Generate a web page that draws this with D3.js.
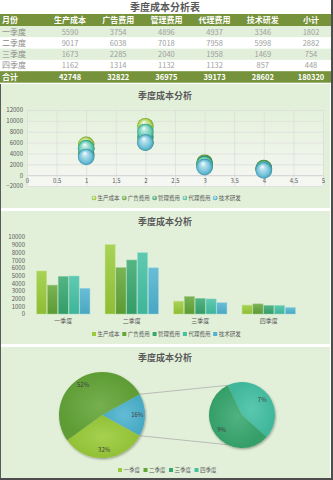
<!DOCTYPE html>
<html>
<head>
  <meta charset="utf-8">
  <style>
    body { margin: 0; background: #fff; }
    svg { display: block; font-family: "Noto Sans CJK SC", "Noto Sans", sans-serif; }
  </style>
</head>
<body>
  <script src="https://d3js.org/d3.v7.min.js"></script>
  <script>
    // table / chart data
    const quarters = ["一季度", "二季度", "三季度", "四季度"];
    const seriesNames = ["生产成本", "广告费用", "管理费用", "代理费用", "技术研发"];
    const production = [5590, 9017, 1673, 1162];
    const advertising = [3754, 6038, 2285, 1314];
    const management = [4896, 7018, 2040, 1132];
    const agency = [4937, 7958, 1958, 1132];
    const research = [3346, 5998, 1469, 857];
    const subtotal = [1802, 2882, 754, 448];
    const totals = [42748, 32822, 36975, 39173, 28602, 180320];
    const headers = ["月份", "生产成本", "广告费用", "管理费用", "代理费用", "技术研发", "小计"];
    const pieShares = [32, 52, 9, 7];   // percent labels shown in the pie-of-pie

    const series = [production, advertising, management, agency, research];
    const colors = ["#99CB38", "#63A537", "#37A76F", "#44C1A3", "#4EB3CF"];
    const pieColors = ["#99CB38", "#63A537", "#37A76F", "#44C1A3"];
    const otherColor = "#4EB3CF";

    const W = 333, H = 480;
    const svg = d3.select("body").append("svg").attr("width", W).attr("height", H);
    const defs = svg.append("defs");
    const plain = d3.format("d");

    // ---------- table ----------
    svg.append("text").attr("x", 165).attr("y", 11).attr("text-anchor", "middle")
      .attr("font-size", 10).attr("font-weight", "bold").attr("fill", "#595959")
      .text("季度成本分析表");

    const colX = d3.scalePoint().domain(d3.range(6)).range([70, 311]);
    const rowH = 11.3, top0 = 14, headH = 12;
    const rowY = (i) => top0 + headH + i * rowH;

    svg.append("rect").attr("x", 0).attr("y", top0).attr("width", W).attr("height", headH).attr("fill", "#76933C");
    svg.append("text").attr("x", 2).attr("y", top0 + 9).attr("font-size", 8).attr("font-weight", "bold")
      .attr("fill", "#fff").text(headers[0]);
    svg.selectAll(".hd").data(headers.slice(1)).enter().append("text")
      .attr("x", (d, i) => colX(i)).attr("y", top0 + 9).attr("text-anchor", "middle")
      .attr("font-size", 8).attr("font-weight", "bold").attr("fill", "#fff").text(d => d);

    quarters.forEach((q, r) => {
      const y = rowY(r);
      svg.append("rect").attr("x", 0).attr("y", y).attr("width", W).attr("height", rowH)
        .attr("fill", r % 2 === 0 ? "#E2EFDA" : "#fff");
      svg.append("text").attr("x", 2).attr("y", y + 8.5).attr("font-size", 8).attr("fill", "#8c8c8c").text(q);
      const vals = series.map(s => s[r]).concat([subtotal[r]]);
      vals.forEach((v, c) => {
        svg.append("text").attr("x", colX(c)).attr("y", y + 8.5).attr("text-anchor", "middle")
          .attr("font-size", 7.5).attr("fill", "#a0a0a0").text(v);
      });
    });
    const ty = rowY(4);
    svg.append("rect").attr("x", 0).attr("y", ty).attr("width", W).attr("height", 11.5).attr("fill", "#76933C");
    svg.append("text").attr("x", 2).attr("y", ty + 9).attr("font-size", 8).attr("font-weight", "bold").attr("fill", "#fff").text("合计");
    totals.forEach((v, c) => {
      svg.append("text").attr("x", colX(c)).attr("y", ty + 9).attr("text-anchor", "middle")
        .attr("font-size", 7.5).attr("font-weight", "bold").attr("fill", "#fff").text(v);
    });

    // ---------- panels ----------
    svg.append("rect").attr("x", 0).attr("y", 83).attr("width", W).attr("height", H - 83).attr("fill", "#fff");
    [[84, 208], [211, 344], [347, 478]].forEach(p => {
      svg.append("rect").attr("x", 1).attr("y", p[0]).attr("width", 329).attr("height", p[1] - p[0])
        .attr("fill", "#E2F0D9");
    });
    svg.append("rect").attr("x", 0).attr("y", 84).attr("width", 1).attr("height", H - 84).attr("fill", "#595959");
    svg.append("rect").attr("x", 331).attr("y", 0).attr("width", 2).attr("height", H).attr("fill", "#4d4d4d");
    svg.append("rect").attr("x", 0).attr("y", 478).attr("width", W).attr("height", 2).attr("fill", "#4d4d4d");

    function chartTitle(y) {
      svg.append("text").attr("x", 165).attr("y", y).attr("text-anchor", "middle")
        .attr("font-size", 9).attr("font-weight", "bold").attr("fill", "#595959").text("季度成本分析");
    }
    const styleText = g => g.selectAll("text").attr("font-size", 6).attr("fill", "#595959").attr("font-family", "Noto Sans CJK SC");

    // ---------- chart 1: bubbles ----------
    chartTitle(99);
    const bx = d3.scaleLinear().domain([0, 5]).range([27, 323]);
    const by = d3.scaleLinear().domain([-2000, 12000]).range([186, 110]);

    const pg = defs.append("linearGradient").attr("id", "plotbg").attr("x1", 0).attr("y1", 0).attr("x2", 0).attr("y2", 1);
    pg.append("stop").attr("offset", "0%").attr("stop-color", "#E3F1DB");
    pg.append("stop").attr("offset", "100%").attr("stop-color", "#F6F7F3");
    svg.append("rect").attr("x", bx(0)).attr("y", by(12000)).attr("width", bx(5) - bx(0))
      .attr("height", by(-2000) - by(12000)).attr("fill", "url(#plotbg)");

    const g1 = svg.append("g");
    g1.append("g").attr("transform", "translate(0," + by(-2000) + ")")
      .call(d3.axisBottom(bx).ticks(10).tickSize(-(by(-2000) - by(12000))).tickFormat(""))
      .call(g => g.select(".domain").remove())
      .call(g => g.selectAll("line").attr("stroke", "#d9d9d9").attr("stroke-width", 0.6));
    g1.append("g").attr("transform", "translate(" + bx(0) + ",0)")
      .call(d3.axisLeft(by).ticks(7).tickSize(-(bx(5) - bx(0))).tickPadding(4).tickFormat(plain))
      .call(g => g.select(".domain").remove())
      .call(g => g.selectAll("line").attr("stroke", "#d9d9d9").attr("stroke-width", 0.6))
      .call(styleText);
    g1.append("g").attr("transform", "translate(0," + by(0) + ")")
      .call(d3.axisBottom(bx).ticks(10).tickSize(0).tickPadding(4).tickFormat(d3.format("")))
      .call(g => g.select(".domain").attr("stroke", "#d0d0d0").attr("stroke-width", 0.8))
      .call(styleText);

    colors.forEach((c, i) => {
      const rg = defs.append("radialGradient").attr("id", "ball" + i)
        .attr("cx", "50%").attr("cy", "55%").attr("r", "55%").attr("fx", "40%").attr("fy", "25%");
      const base = d3.color(c);
      rg.append("stop").attr("offset", "0%").attr("stop-color", "#ffffff");
      rg.append("stop").attr("offset", "25%").attr("stop-color", d3.interpolateRgb(c, "#fff")(0.6));
      rg.append("stop").attr("offset", "70%").attr("stop-color", d3.interpolateRgb(c, "#fff")(0.15));
      rg.append("stop").attr("offset", "90%").attr("stop-color", base.darker(0.5).formatHex());
      rg.append("stop").attr("offset", "100%").attr("stop-color", base.darker(0.9).formatHex());
    });

    series.forEach((s, i) => {
      g1.selectAll(".b" + i).data(s).enter().append("circle")
        .attr("cx", (d, j) => bx(j + 1)).attr("cy", d => by(d)).attr("r", 8.3)
        .attr("fill", "url(#ball" + i + ")");
    });

    function legend(y, names, cols, x0, step, shape) {
      const lg = svg.append("g");
      names.forEach((n, i) => {
        const x = x0 + i * step;
        if (shape === "circle") {
          lg.append("circle").attr("cx", x).attr("cy", y - 2).attr("r", 2.3).attr("fill", "url(#ball" + i + ")");
        } else {
          lg.append("rect").attr("x", x - 2).attr("y", y - 4).attr("width", 4).attr("height", 4).attr("fill", cols[i]);
        }
        lg.append("text").attr("x", x + 3.5).attr("y", y).attr("font-size", 5.5).attr("fill", "#595959").text(n);
      });
    }
    legend(200, seriesNames, colors, 94, 30.3, "circle");

    // ---------- chart 2: grouped bars ----------
    chartTitle(225);
    const x0 = d3.scaleBand().domain(quarters).range([29, 303]).paddingInner(0.22).paddingOuter(0.11);
    const x1 = d3.scaleBand().domain(d3.range(5)).range([0, x0.bandwidth()]).paddingInner(0.06);
    const y2 = d3.scaleLinear().domain([0, 10000]).range([314, 237]);

    svg.append("g").attr("transform", "translate(28,0)")
      .call(d3.axisLeft(y2).ticks(10).tickSize(0).tickPadding(3).tickFormat(plain))
      .call(g => g.select(".domain").remove())
      .call(styleText);
    svg.append("g").attr("transform", "translate(0,314)")
      .call(d3.axisBottom(x0).tickSize(0).tickPadding(5))
      .call(g => g.select(".domain").remove())
      .call(styleText);

    colors.forEach((c, i) => {
      const lgd = defs.append("linearGradient").attr("id", "bar" + i).attr("x1", 0).attr("y1", 0).attr("x2", 0).attr("y2", 1);
      lgd.append("stop").attr("offset", "0%").attr("stop-color", d3.interpolateRgb(c, "#fff")(0.15));
      lgd.append("stop").attr("offset", "100%").attr("stop-color", d3.color(c).darker(0.2).formatHex());
    });

    quarters.forEach((q, j) => {
      series.forEach((s, i) => {
        svg.append("rect")
          .attr("x", x0(q) + x1(i)).attr("y", y2(s[j]))
          .attr("width", x1.bandwidth()).attr("height", y2(0) - y2(s[j]))
          .attr("fill", "url(#bar" + i + ")")
          .attr("stroke", d3.interpolateRgb(colors[i], "#fff")(0.45))
          .attr("stroke-width", 0.5);
      });
    });
    legend(336, seriesNames, colors, 94, 30.3, "rect");

    // ---------- chart 3: pie of pie ----------
    chartTitle(361);
    const shadow = defs.append("filter").attr("id", "sh").attr("x", "-20%").attr("y", "-20%").attr("width", "140%").attr("height", "140%");
    shadow.append("feDropShadow").attr("dx", 0.8).attr("dy", 1.2).attr("stdDeviation", 1.2).attr("flood-color", "#000").attr("flood-opacity", 0.35);

    const otherShare = pieShares[2] + pieShares[3];
    const bigData = [
      { name: "other", v: otherShare, c: otherColor },
      { name: quarters[0], v: pieShares[0], c: pieColors[0] },
      { name: quarters[1], v: pieShares[1], c: pieColors[1] }
    ];
    const bigStart = Math.PI / 2 - Math.PI * otherShare / 100;
    const bigPie = d3.pie().sort(null).value(d => d.v).startAngle(bigStart).endAngle(bigStart + 2 * Math.PI);
    const bigR = 43, bigC = [102, 415];
    const arcBig = d3.arc().innerRadius(0).outerRadius(bigR);
    const lblBig = d3.arc().innerRadius(bigR * 0.82).outerRadius(bigR * 0.82);

    const smallData = [
      { name: quarters[3], v: pieShares[3], c: pieColors[3] },
      { name: quarters[2], v: pieShares[2], c: pieColors[2] }
    ];
    const smallStart = -0.45;
    const smallPie = d3.pie().sort(null).value(d => d.v).startAngle(smallStart).endAngle(smallStart + 2 * Math.PI);
    const smallR = 33, smallC = [242, 415];
    const arcSmall = d3.arc().innerRadius(0).outerRadius(smallR);
    const lblSmall = d3.arc().innerRadius(smallR * 0.77).outerRadius(smallR * 0.77);

    // connector lines
    const bigArcs = bigPie(bigData);
    const o = bigArcs[0];
    const pt = (c, r, a) => [c[0] + r * Math.sin(a), c[1] - r * Math.cos(a)];
    const connectors = [
      [pt(bigC, bigR, o.startAngle), pt(smallC, smallR, smallStart)],
      [pt(bigC, bigR, o.endAngle), pt(smallC, smallR, Math.PI + 0.45)]
    ];
    svg.selectAll(".conn").data(connectors).enter().append("line")
      .attr("x1", d => d[0][0]).attr("y1", d => d[0][1]).attr("x2", d => d[1][0]).attr("y2", d => d[1][1])
      .attr("stroke", "#a6a6a6").attr("stroke-width", 0.7);

    function pieGrads(list, prefix) {
      list.forEach((d, i) => {
        const g = defs.append("radialGradient").attr("id", prefix + i).attr("cx", "50%").attr("cy", "50%").attr("r", "50%");
        g.append("stop").attr("offset", "0%").attr("stop-color", d3.interpolateRgb(d.c, "#fff")(0.12));
        g.append("stop").attr("offset", "100%").attr("stop-color", d3.color(d.c).darker(0.15).formatHex());
      });
    }
    pieGrads(bigData, "pb");
    pieGrads(smallData, "ps");

    const gBig = svg.append("g").attr("transform", "translate(" + bigC + ")").attr("filter", "url(#sh)");
    gBig.selectAll("path").data(bigArcs).enter().append("path")
      .attr("d", arcBig).attr("fill", (d, i) => "url(#pb" + i + ")");
    const gBigL = svg.append("g").attr("transform", "translate(" + bigC + ")");
    gBigL.selectAll("text").data(bigArcs).enter().append("text")
      .attr("transform", d => "translate(" + lblBig.centroid(d) + ")")
      .attr("text-anchor", "middle").attr("dy", "0.35em")
      .attr("font-size", 6).attr("fill", "#404040").text(d => d.data.v + "%");

    const smallArcs = smallPie(smallData);
    const gSmall = svg.append("g").attr("transform", "translate(" + smallC + ")").attr("filter", "url(#sh)");
    gSmall.selectAll("path").data(smallArcs).enter().append("path")
      .attr("d", arcSmall).attr("fill", (d, i) => "url(#ps" + i + ")");
    const gSmallL = svg.append("g").attr("transform", "translate(" + smallC + ")");
    gSmallL.selectAll("text").data(smallArcs).enter().append("text")
      .attr("transform", d => "translate(" + lblSmall.centroid(d) + ")")
      .attr("text-anchor", "middle").attr("dy", "0.35em")
      .attr("font-size", 6).attr("fill", "#404040").text(d => d.data.v + "%");

    legend(472, quarters, pieColors, 120, 25.5, "rect");
  </script>
</body>
</html>
